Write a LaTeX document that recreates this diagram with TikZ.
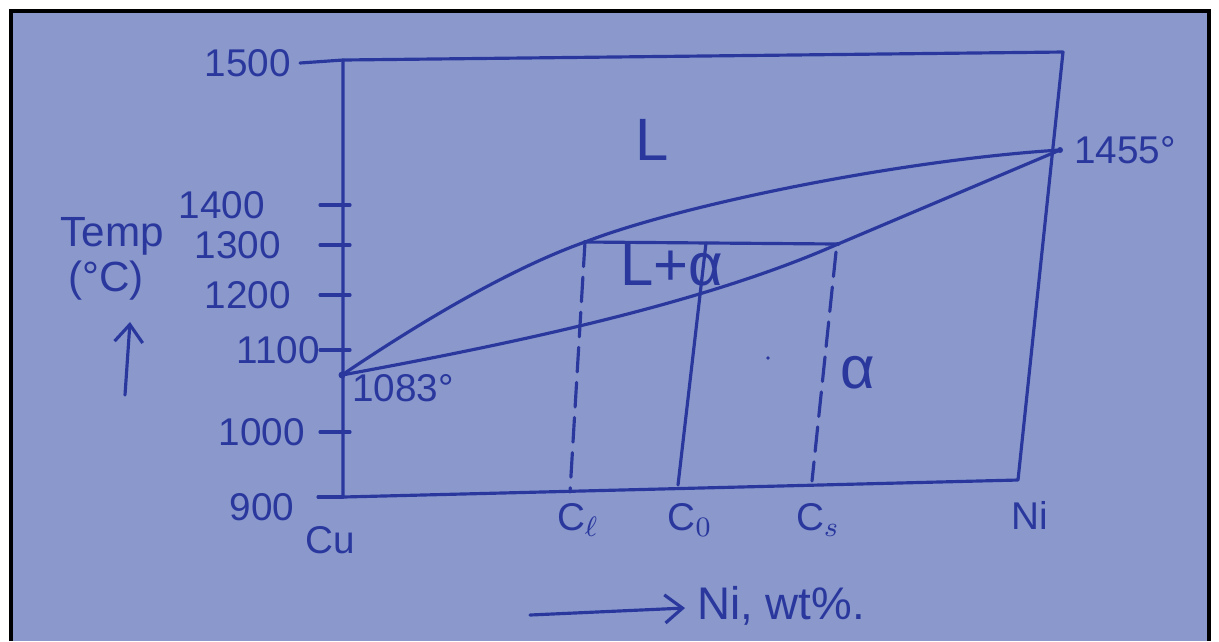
\documentclass[tikz,border=0pt]{standalone}
\usepackage{fontspec}
\setmainfont{Liberation Sans}
\usetikzlibrary{arrows.meta}
\definecolor{paper}{RGB}{138,152,204}
\definecolor{ink}{RGB}{42,56,158}
\begin{document}
\begin{tikzpicture}[x=0.01cm,y=-0.01cm,>={Straight Barb[length=5pt,width=8pt]}]
  \tikzstyle{pen}=[ink,line width=0.9pt,line cap=round,line join=round]
  \tikzstyle{hand}=[text=ink,inner sep=1pt,font=\fontsize{11}{11}\selectfont]
  \tikzstyle{phase}=[text=ink,inner sep=1pt,font=\fontsize{17}{17}\selectfont]
  \tikzstyle{dashline}=[pen,dash pattern=on 7pt off 3pt]
  \useasboundingbox (0,0) rectangle (1219,641);
  \fill[white] (0,0) rectangle (1219,641);
  \fill[paper] (11,11) rectangle (1209,641);
  \draw[black,line width=1.2pt] (11,641) -- (11,11) -- (1209,11) -- (1209,641);
  % axes box
  \draw[pen] (343,60) -- (1063,52) -- (1018,480) -- (343,497) -- cycle;
  \draw[pen] (343,60) -- (300,63);
  \draw[pen] (343,497) -- (318,497);
  % temperature ticks
  \foreach \yy/\lab/\xx in {205/1400/222,245/1300/238,295/1200/248,350/1100/278,432/1000/262}{
    \draw[pen] (320,\yy) -- (350,\yy);
    \node[hand] (t\lab) at (\xx,\yy) {\lab};
  }
  \node[hand] (t1500) at (248,63) {1500};
  \node[hand] (t900) at (262,507) {900};
  % melting points
  \coordinate (cu) at (342,375);
  \coordinate (ni) at (1060,150);
  \fill[ink] (cu) circle (3.5);
  \fill[ink] (ni) circle (3);
  \node[hand,anchor=west] (mcu) at (348,388) {1083°};
  \node[hand,anchor=west] (mni) at (1070,150) {1455°};
  % liquidus and solidus
  \coordinate (tl) at (585,242);
  \coordinate (ts) at (838,244);
  \draw[pen] (cu) .. controls (435,312) and (520,265) .. (tl)
    .. controls (680,205) and (900,160) .. (ni);
  \draw[pen] (cu) .. controls (505,345) and (700,305) .. (ts) -- (ni);
  % tie line and compositions
  \draw[pen] (tl) -- (ts);
  \fill[ink] (tl) circle (2);
  \fill[ink] (ts) circle (2);
  \coordinate (cl) at (570,492);
  \coordinate (c0top) at (706,243);
  \coordinate (c0) at (678,485);
  \coordinate (cstop) at (836,252);
  \coordinate (cs) at (812,481);
  \draw[dashline] (tl) -- (cl);
  \draw[pen] (c0top) -- (c0);
  \draw[dashline] (cstop) -- (cs);
  \fill[ink] (768,358) circle (1.8);
  % phase labels
  \node[phase] (liq) at (652,140) {L};
  \node[phase] (mix) at (672,265) {L+α};
  \node[phase] (alpha) at (858,373) {α};
  % composition labels
  \node[hand] (lcu) at (330,540) {Cu};
  \node[hand] (lcl) at (578,520) {C$_\ell$};
  \node[hand] (lc0) at (690,520) {C$_0$};
  \node[hand] (lcs) at (818,520) {C$_s$};
  \node[hand] (lni) at (1030,515) {Ni};
  % axis titles
  \node[hand,font=\fontsize{12}{12}\selectfont] (temp) at (112,236) {Temp};
  \node[hand,font=\fontsize{12}{12}\selectfont] (unit) at (106,281) {(°C)};
  \coordinate (ta) at (125,395);
  \coordinate (tb) at (130,322);
  \draw[pen,->] (ta) -- (tb);
  \coordinate (na) at (530,615);
  \coordinate (nb) at (685,608);
  \draw[pen,->] (na) -- (nb);
  \node[hand,anchor=west,font=\fontsize{13}{13}\selectfont] (wt) at (693,606) {Ni, wt\%.};
\end{tikzpicture}
\end{document}
